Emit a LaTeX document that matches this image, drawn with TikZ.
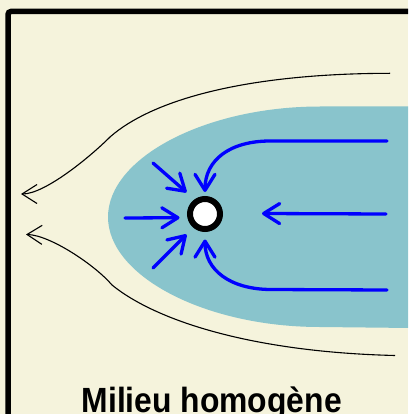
\documentclass[tikz,border=0pt]{standalone}
\usepackage{fontspec}
\setmainfont{Liberation Sans}
\usetikzlibrary{arrows.meta}
\definecolor{bg}{RGB}{245,243,220}
\definecolor{tealzone}{RGB}{137,196,204}
\definecolor{flow}{RGB}{0,0,255}
\begin{document}
\begin{tikzpicture}[x=1pt,y=-1pt,
  blueflow/.style={draw=flow,line width=3.3pt,line cap=round,-{Straight Barb[length=16pt,width=20pt,round]}},
  streamline/.style={draw=black,line width=1.1pt,-{Straight Barb[length=15pt,width=19pt]}},
  sinkstyle/.style={circle,draw=black,line width=6pt,fill=white,minimum size=30pt,inner sep=0pt},
  labelstyle/.style={font=\bfseries\fontsize{35}{40}\selectfont,anchor=base,inner sep=0pt}
]
\useasboundingbox (0,0) rectangle (408,414);
\clip (0,0) rectangle (408,414);
\fill[bg] (0,0) rectangle (408,414);
\draw[line width=5.5pt,rounded corners=3pt] (8,11.5) rectangle (440,450);
% teal zone
\fill[tealzone] (412,106.5) -- (320,106.5) .. controls (205,106.5) and (108,158) .. (108,217)
  .. controls (108,276) and (205,327) .. (320,327) -- (412,328) -- cycle;
% sink
\node[sinkstyle] (sink) at (205,214) {};
% coordinates
\coordinate (ul0) at (153,163);  \coordinate (ul1) at (186.5,192.3);
\coordinate (l0) at (125,218);   \coordinate (l1) at (179.5,217.7);
\coordinate (ll0) at (153,268);  \coordinate (ll1) at (186.5,234.5);
\coordinate (m0) at (386,214);   \coordinate (m1) at (262,213.5);
\coordinate (uc0) at (387,141);  \coordinate (uc1) at (205,192);
\coordinate (lc0) at (387,290);  \coordinate (lc1) at (205,239.5);
\coordinate (us0) at (390,73.3); \coordinate (us1) at (21,194);
\coordinate (ls0) at (395,355.5);\coordinate (ls1) at (26,234.5);
% blue flow arrows
\draw[blueflow] (ul0) -- (ul1);
\draw[blueflow] (l0) -- (l1);
\draw[blueflow] (ll0) -- (ll1);
\draw[blueflow] (m0) -- (m1);
\draw[blueflow] (uc0) -- (270,141) .. controls (230,141) and (205,160) .. (uc1);
\draw[blueflow] (lc0) -- (270,289.5) .. controls (230,289) and (205,270) .. (lc1);
% black streamlines
\draw[streamline] (us0) .. controls (245,73.5) and (152,100) .. (110,137)
  .. controls (90,157) and (45,194) .. (us1);
\draw[streamline] (ls0) .. controls (250,352) and (155,320) .. (112,285)
  .. controls (95,265) and (50,235) .. (ls1);
% label
\node[labelstyle] (label) at (211.7,412) {\scalebox{0.91}[1]{Milieu homogène}};
\end{tikzpicture}
\end{document}
